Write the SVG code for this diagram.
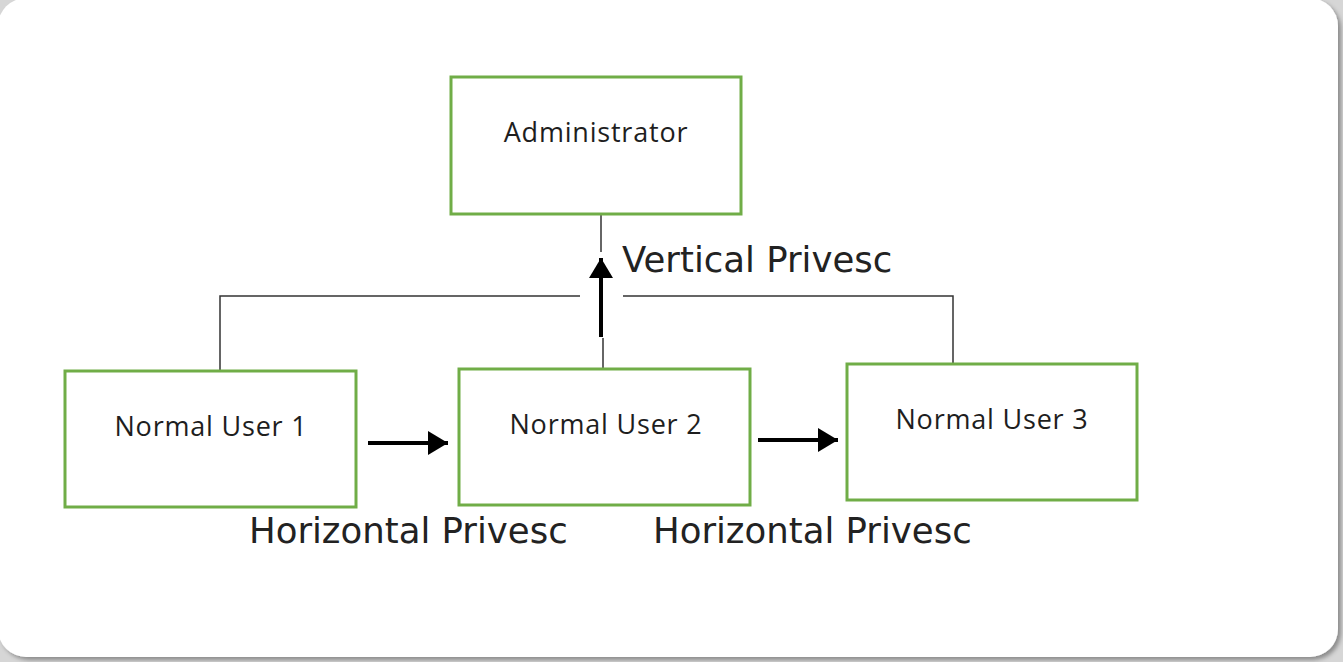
<svg xmlns="http://www.w3.org/2000/svg" width="1343" height="662" viewBox="0 0 1343 662">
<defs>
<style>
.box{fill:#fff;stroke:#70ad47;stroke-width:3}
.lbl{font-family:"Open Sans","Noto Sans",sans-serif;font-size:27px;letter-spacing:0.8px;fill:#1e1e1e;text-anchor:middle}
.big{font-family:"DejaVu Sans",sans-serif;font-size:35.5px;fill:#222}
.thin{stroke:#333;stroke-width:1.5;fill:none}
.arr{stroke:#000;stroke-width:4;fill:none}
</style>
<marker id="ah" markerWidth="6" markerHeight="6" refX="5" refY="3" orient="auto" markerUnits="strokeWidth">
<path d="M0,0 L5,3 L0,6 Z" fill="#000"/>
</marker>
<filter id="sh" x="-5%" y="-5%" width="110%" height="110%">
<feDropShadow dx="3" dy="3" stdDeviation="2" flood-color="#000" flood-opacity="0.35"/>
</filter>
</defs>
<rect x="0" y="0" width="1343" height="662" fill="#d6d6d6"/>
<rect x="-2" y="-2" width="1340" height="659" rx="28" fill="#fff" filter="url(#sh)"/>
<g id="connectors">
<path class="thin" d="M601,214 V252"/>
<path class="thin" d="M220,371 V296 H580"/>
<path class="thin" d="M623,296 H953 V366"/>
<path class="thin" d="M603,338 V369"/>
<line class="arr" x1="601" y1="337" x2="601" y2="258" marker-end="url(#ah)"/>
<line class="arr" x1="368" y1="443" x2="448" y2="443" marker-end="url(#ah)"/>
<line class="arr" x1="758" y1="440" x2="838" y2="440" marker-end="url(#ah)"/>
</g>
<g id="admin">
<rect class="box" x="451" y="77" width="290" height="137"/>
<text class="lbl" x="596" y="142">Administrator</text>
</g>
<g id="user1">
<rect class="box" x="65" y="371" width="291" height="136"/>
<text class="lbl" x="211" y="436">Normal User 1</text>
</g>
<g id="user2">
<rect class="box" x="459" y="369" width="291" height="136"/>
<text class="lbl" x="606" y="434">Normal User 2</text>
</g>
<g id="user3">
<rect class="box" x="847" y="364" width="290" height="136"/>
<text class="lbl" x="992" y="429">Normal User 3</text>
</g>
<g id="labels">
<text class="big" x="622" y="272">Vertical Privesc</text>
<text class="big" x="249" y="543">Horizontal Privesc</text>
<text class="big" x="653" y="543">Horizontal Privesc</text>
</g>
</svg>
